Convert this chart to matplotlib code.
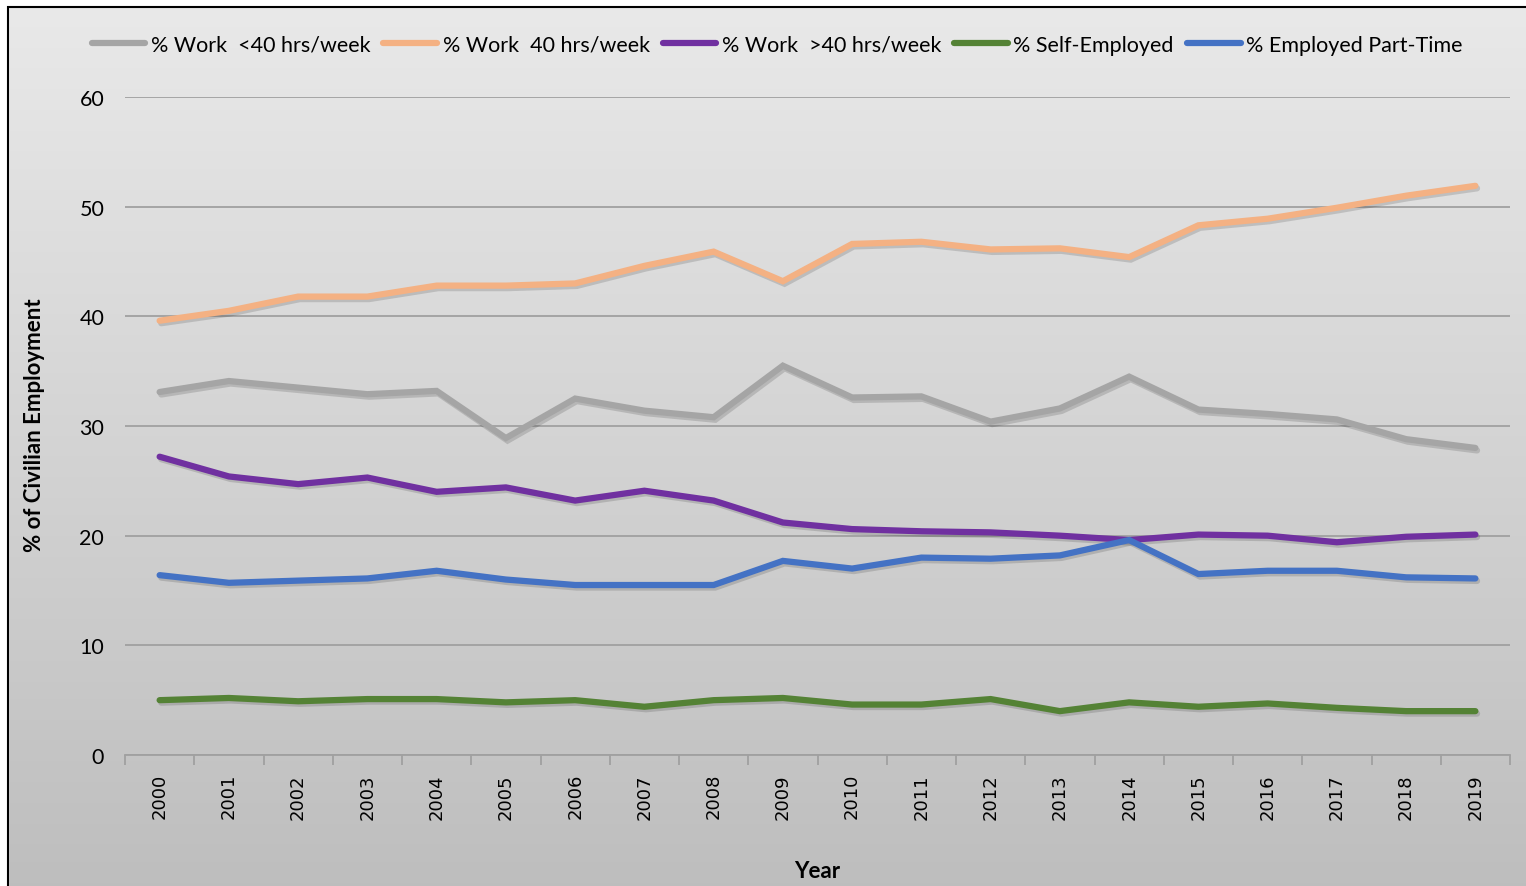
import numpy as np
import matplotlib
matplotlib.use("Agg")
import matplotlib.pyplot as plt
import matplotlib.patheffects as pe
from matplotlib.lines import Line2D
from matplotlib.patches import Rectangle

years = [str(y) for y in range(2000, 2020)]
work_lt40 = [33.1, 34.1, 33.5, 32.9, 33.2, 28.9, 32.5, 31.4, 30.8, 35.5,
             32.6, 32.7, 30.4, 31.6, 34.5, 31.5, 31.1, 30.6, 28.8, 28.0]
work_40 = [39.6, 40.5, 41.8, 41.8, 42.8, 42.8, 43.0, 44.6, 45.9, 43.2,
           46.6, 46.8, 46.1, 46.2, 45.4, 48.3, 48.9, 49.9, 51.0, 51.9]
work_gt40 = [27.2, 25.4, 24.7, 25.3, 24.0, 24.4, 23.2, 24.1, 23.2, 21.2,
             20.6, 20.4, 20.3, 20.0, 19.6, 20.1, 20.0, 19.4, 19.9, 20.1]
self_employed = [5.0, 5.2, 4.9, 5.1, 5.1, 4.8, 5.0, 4.4, 5.0, 5.2,
                 4.6, 4.6, 5.1, 4.0, 4.8, 4.4, 4.7, 4.3, 4.0, 4.0]
part_time = [16.4, 15.7, 15.9, 16.1, 16.8, 16.0, 15.5, 15.5, 15.5, 17.7,
             17.0, 18.0, 17.9, 18.2, 19.6, 16.5, 16.8, 16.8, 16.2, 16.1]

series_names = ["% Work  <40 hrs/week", "% Work  40 hrs/week", "% Work  >40 hrs/week",
                "% Self-Employed", "% Employed Part-Time"]
series_values = [work_lt40, work_40, work_gt40, self_employed, part_time]
series_colors = ["#a5a5a5", "#f4b183", "#7030a0", "#548235", "#4472c4"]

W, H = 1526, 887
fig = plt.figure(figsize=(W / 100, H / 100), dpi=100)
fig.patch.set_facecolor("white")

# background gradient
bg = fig.add_axes([0, 0, 1, 1], zorder=0)
grad = np.linspace(0, 1, 256).reshape(-1, 1)
top = np.array([0.915, 0.915, 0.915])
bot = np.array([0.745, 0.745, 0.745])
img = top[None, None, :] * (1 - grad[:, :, None]) + bot[None, None, :] * grad[:, :, None]
bg.imshow(img, aspect="auto", extent=[0, 1, 0, 1], origin="upper")
bg.set_xlim(0, 1)
bg.set_ylim(0, 1)
bg.axis("off")
# white strip outside frame
bg.add_patch(Rectangle((0, 1 - 7 / H), 1, 7 / H, color="white", zorder=2))
bg.add_patch(Rectangle((0, 0), 8 / W, 1, color="white", zorder=2))
bg.plot([8 / W, 8 / W, 1.01], [-0.01, 1 - 7.5 / H, 1 - 7.5 / H], color="black", lw=1.5, zorder=3,
        solid_joinstyle="miter")

ax = fig.add_axes([125 / W, 1 - 756 / H, (1510 - 125) / W, (756 - 98) / H], zorder=1)
ax.set_facecolor("none")

x = np.arange(len(years))
for name, vals, col in zip(series_names, series_values, series_colors):
    ax.plot(x, vals, color=col, lw=4.5, solid_capstyle="round", solid_joinstyle="miter", label=name,
            path_effects=[pe.SimpleLineShadow(offset=(1.2, -1.8), shadow_color="black", alpha=0.14),
                          pe.Normal()], zorder=3)

ax.set_xlim(-0.5, len(years) - 0.5)
ax.set_ylim(0, 60)
ax.set_yticks(np.arange(0, 61, 10))
ax.grid(axis="y", color="#a0a0a0", lw=1.3)
ax.set_axisbelow(True)
for s in ["top", "right", "left"]:
    ax.spines[s].set_visible(False)
ax.spines["bottom"].set_color("#a0a0a0")
ax.spines["bottom"].set_linewidth(1.3)

ax.set_xticks(x)
ax.set_xticklabels(years, rotation=90, fontsize=13, family="DejaVu Sans", color="black")
ax.tick_params(axis="x", which="major", length=0, pad=13)
ax.set_xticks(np.arange(-0.5, len(years), 1), minor=True)
ax.tick_params(axis="x", which="minor", length=7, color="#a0a0a0", width=1.3)
ax.tick_params(axis="y", length=0, pad=15)
for lab in ax.get_yticklabels():
    lab.set_fontsize(15.5)
    lab.set_family("Lato")

fig.text(35 / W, 1 - 425 / H, "% of Civilian Employment", rotation=90, ha="center", va="center",
         fontsize=16, fontweight="bold", family="Lato")
fig.text(817 / W, 1 - 872 / H, "Year", ha="center", va="center",
         fontsize=16, fontweight="bold", family="Lato")

handles = [Line2D([], [], color=c, lw=4.5, solid_capstyle="round") for c in series_colors]
leg = fig.legend(handles, series_names, loc="center", bbox_to_anchor=(777 / W, 1 - 46 / H),
                 ncol=5, frameon=False, handlelength=2.5, handletextpad=0.25, columnspacing=0.6,
                 prop={"family": "Lato", "size": 15.5})

fig.savefig("out.png", dpi=100)
